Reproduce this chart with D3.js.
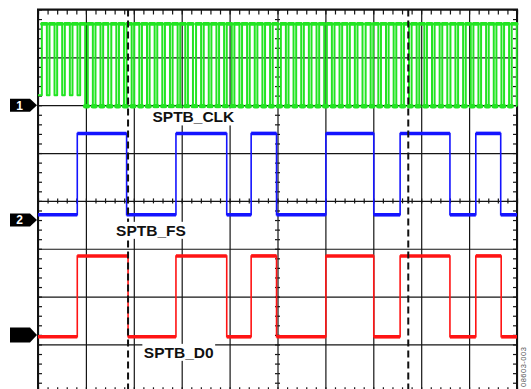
<!DOCTYPE html>
<html>
<head>
<meta charset="utf-8">
<script src="https://cdn.jsdelivr.net/npm/d3@7/dist/d3.min.js"></script>
<style>
  html, body { margin: 0; padding: 0; background: #fff; }
  svg { display: block; }
  .grid line { stroke: #151515; stroke-width: 1.2; }
  .grid path, .ticks path { display: none; }
  .ticks line { stroke: #151515; stroke-width: 1.2; }
  .trace-label { font-family: "Liberation Sans", Arial, sans-serif; font-weight: bold; font-size: 15.5px; fill: #111; }
</style>
</head>
<body>
<div id="scope"></div>
<script>
(function () {
  'use strict';

  // time runs in screen divisions (0..10), levels in divisions around centre (-4..4)
  var majorDivX = [0, 1, 2, 3, 4, 5, 6, 7, 8, 9, 10];
  var majorDivY = [-4, -3, -2, -1, 0, 1, 2, 3, 4];

  // channel 1: SPTB_CLK rising edges
  var clkRise = [0.08, 0.24, 0.40, 0.56, 0.72, 0.88, 1.04, 1.20, 1.36, 1.53, 1.69, 1.85,
    2.01, 2.17, 2.33, 2.49, 2.65, 2.81, 2.97, 3.13, 3.30, 3.46, 3.62, 3.78, 3.94,
    4.10, 4.26, 4.42, 4.58, 4.74, 4.90, 5.07, 5.23, 5.39, 5.55, 5.71, 5.87, 6.03,
    6.19, 6.35, 6.51, 6.67, 6.84, 7.00, 7.16, 7.32, 7.48, 7.64, 7.80, 7.96, 8.12,
    8.28, 8.44, 8.61, 8.77, 8.93, 9.09, 9.25, 9.41, 9.57, 9.73, 9.89];
  var clkHighWidth = 0.105;
  var clkHigh = 3.72;
  var clkLowSteps = [{ from: 0, level: 2.21 }, { from: 0.98, level: 1.98 }];

  // channel 2: SPTB_FS edges (starts low)
  var fsEdges = [0.82, 1.85, 2.88, 3.94, 4.45, 4.98, 6.01, 7.01, 7.56, 8.60, 9.14, 9.66];
  var fsLevels = [-0.29, 1.41];

  // channel 3: SPTB_D0 edges (starts low)
  var d0Edges = [0.82, 1.88, 2.88, 3.94, 4.45, 4.98, 6.01, 7.01, 7.56, 8.60, 9.14, 9.67];
  var d0Levels = [-2.84, -1.15];

  var cursors = [1.88, 7.73];
  var markerLabels = ['1', '2', ''];
  var markerLevels = [2.0, -0.40, -2.80];
  var traceNames = ['SPTB_CLK', 'SPTB_FS', 'SPTB_D0'];
  var labelAt = [[2.39, 1.64], [1.63, -0.73], [2.21, -3.28]];
  var figureId = '08603-003';

  var W = 531, H = 389;
  var left = 38, right = 517, top = 9.5, bottom = 392.3;

  var x = d3.scaleLinear().domain([0, 10]).range([left, right]);
  var y = d3.scaleLinear().domain([-4, 4]).range([bottom, top]);
  var minorX = d3.range(0, 51).map(function (i) { return i / 5; });
  var minorY = d3.range(0, 41).map(function (i) { return i / 5 - 4; });

  var svg = d3.select('#scope').append('svg').attr('width', W).attr('height', H);
  svg.append('rect').attr('width', W).attr('height', H).attr('fill', '#fff');

  // graticule
  svg.append('g').attr('class', 'grid')
    .attr('transform', 'translate(0,' + bottom + ')')
    .call(d3.axisBottom(x).tickValues(majorDivX).tickSize(-(bottom - top)).tickFormat(''));
  svg.append('g').attr('class', 'grid')
    .attr('transform', 'translate(' + left + ',0)')
    .call(d3.axisLeft(y).tickValues(majorDivY).tickSize(-(right - left)).tickFormat(''));

  // minor ticks on the frame and on the centre lines
  function ticks(axis, tx, ty) {
    svg.append('g').attr('class', 'ticks')
      .attr('transform', 'translate(' + tx + ',' + ty + ')')
      .call(axis.tickFormat(''));
  }
  ticks(d3.axisBottom(x).tickValues(minorX).tickSize(5), 0, top);
  ticks(d3.axisTop(x).tickValues(minorX).tickSize(5), 0, bottom);
  ticks(d3.axisRight(y).tickValues(minorY).tickSize(4), left, 0);
  ticks(d3.axisLeft(y).tickValues(minorY).tickSize(4), right, 0);
  ticks(d3.axisBottom(x).tickValues(minorX).tickSize(2.5), 0, y(0));
  ticks(d3.axisTop(x).tickValues(minorX).tickSize(2.5), 0, y(0));
  ticks(d3.axisLeft(y).tickValues(minorY).tickSize(2.5), x(5), 0);
  ticks(d3.axisRight(y).tickValues(minorY).tickSize(2.5), x(5), 0);

  svg.append('rect')
    .attr('x', left).attr('y', top)
    .attr('width', right - left).attr('height', bottom - top)
    .attr('fill', 'none').attr('stroke', '#111').attr('stroke-width', 2);

  var line = d3.line()
    .x(function (d) { return x(d[0]); })
    .y(function (d) { return y(d[1]); });

  function stepPoints(edges, levels) {
    var pts = [[0, levels[0]]];
    var state = 0;
    edges.forEach(function (e) {
      pts.push([e, levels[state]]);
      state = 1 - state;
      pts.push([e, levels[state]]);
    });
    pts.push([10, levels[state]]);
    return pts;
  }

  function clkLowAt(t) {
    var lv = clkLowSteps[0].level;
    clkLowSteps.forEach(function (s) { if (t >= s.from) lv = s.level; });
    return lv;
  }

  // clock trace
  var clkPts = [[0, clkLowAt(0)]];
  var clkLows = [];
  var clkTops = [];
  clkRise.forEach(function (r, i) {
    var f = r + clkHighWidth;
    var prevFall = i === 0 ? 0 : clkRise[i - 1] + clkHighWidth;
    clkPts.push([r, clkLowAt(prevFall)]);
    clkPts.push([r, clkHigh]);
    clkPts.push([f, clkHigh]);
    clkPts.push([f, clkLowAt(f)]);
    clkTops.push([r, f]);
    if (i > 0 && prevFall >= clkLowSteps[1].from) clkLows.push([prevFall, r]);
  });
  clkPts.push([10, clkLowAt(10)]);

  var green = '#22e422', blue = '#1414ff', red = '#ff1414';

  function drawStep(pts, color) {
    svg.append('path').datum(pts).attr('d', line)
      .attr('fill', 'none').attr('stroke', color)
      .attr('stroke-width', 1.6);
    var flats = [];
    for (var i = 0; i < pts.length - 1; i++) {
      if (pts[i][1] === pts[i + 1][1] && pts[i + 1][0] > pts[i][0]) flats.push([pts[i], pts[i + 1]]);
    }
    svg.append('g').selectAll('line').data(flats).join('line')
      .attr('x1', function (d) { return x(d[0][0]); })
      .attr('x2', function (d) { return x(d[1][0]); })
      .attr('y1', function (d) { return y(d[0][1]); })
      .attr('y2', function (d) { return y(d[1][1]); })
      .attr('stroke', color).attr('stroke-width', 3.6);
  }

  svg.append('path').datum(clkPts).attr('d', line)
    .attr('fill', 'none').attr('stroke', green)
    .attr('stroke-width', 2).attr('stroke-linejoin', 'round');
  svg.append('g').selectAll('line').data(clkTops).join('line')
    .attr('x1', function (d) { return x(d[0]); })
    .attr('x2', function (d) { return x(d[1]); })
    .attr('y1', y(clkHigh) + 1).attr('y2', y(clkHigh) + 1)
    .attr('stroke', green).attr('stroke-width', 3.5).attr('stroke-linecap', 'round');
  svg.append('g').selectAll('line').data(clkLows).join('line')
    .attr('x1', function (d) { return x(d[0]); })
    .attr('x2', function (d) { return x(d[1]); })
    .attr('y1', y(clkLowSteps[1].level)).attr('y2', y(clkLowSteps[1].level))
    .attr('stroke', green).attr('stroke-width', 4.5).attr('stroke-linecap', 'round');

  drawStep(stepPoints(fsEdges, fsLevels), blue);
  drawStep(stepPoints(d0Edges, d0Levels), red);

  // cursors
  svg.append('g').selectAll('line').data(cursors).join('line')
    .attr('x1', function (d) { return x(d); })
    .attr('x2', function (d) { return x(d); })
    .attr('y1', top).attr('y2', bottom)
    .attr('stroke', '#111').attr('stroke-width', 2)
    .attr('stroke-dasharray', '7,4');

  // trace names on white boxes
  traceNames.forEach(function (name, i) {
    var g = svg.append('g');
    var txt = g.append('text').attr('class', 'trace-label')
      .attr('x', x(labelAt[i][0])).attr('y', y(labelAt[i][1]))
      .text(name);
    var bb = txt.node().getBBox();
    g.insert('rect', 'text')
      .attr('x', bb.x - 1.5).attr('y', bb.y)
      .attr('width', bb.width + 3).attr('height', bb.height)
      .attr('fill', '#fff');
  });

  // channel ground markers
  markerLevels.forEach(function (lv, i) {
    var cy = y(lv);
    var hh = markerLabels[i] ? 6.5 : 7.5;
    svg.append('path')
      .attr('d', 'M10,' + (cy - hh) + 'H30L37,' + cy + 'L30,' + (cy + hh) + 'H10Z')
      .attr('fill', '#000');
    if (markerLabels[i]) {
      svg.append('text')
        .attr('x', 19.5).attr('y', cy + 4.3)
        .attr('text-anchor', 'middle')
        .attr('font-family', '"Liberation Sans", Arial, sans-serif')
        .attr('font-weight', 'bold').attr('font-size', '12px')
        .attr('fill', '#fff')
        .text(markerLabels[i]);
    }
  });

  svg.append('text')
    .attr('transform', 'translate(526,387) rotate(-90)')
    .attr('text-anchor', 'start')
    .attr('font-family', '"Liberation Sans", Arial, sans-serif')
    .attr('font-size', '7.5px')
    .attr('letter-spacing', '0.5px')
    .attr('fill', '#555')
    .text(figureId);
})();
</script>
</body>
</html>
